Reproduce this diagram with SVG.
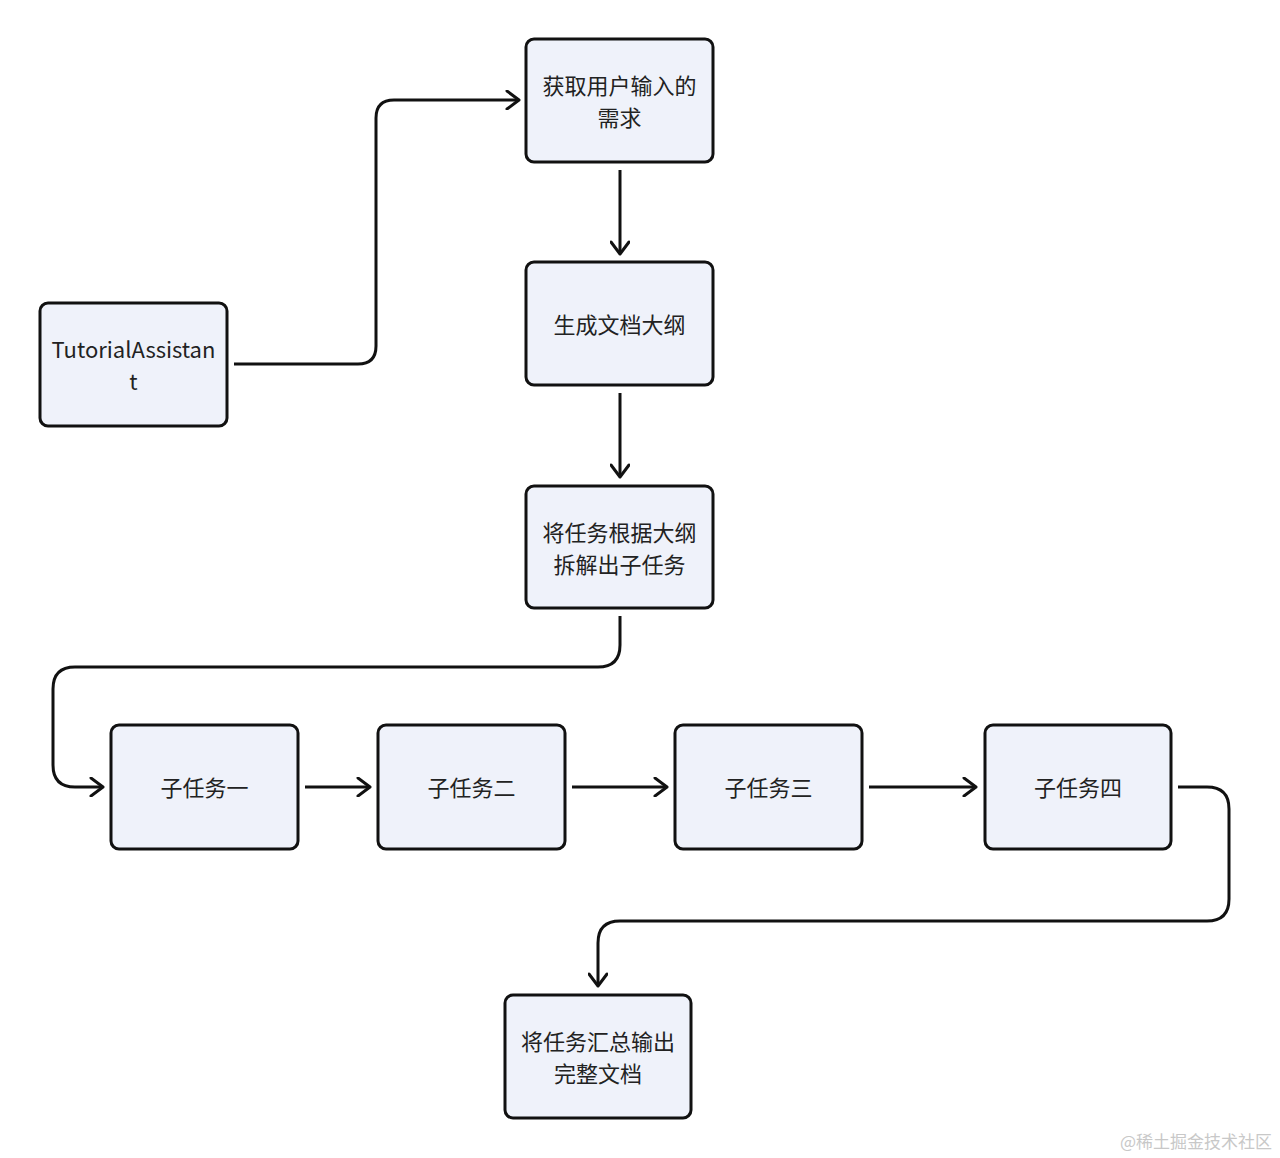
<svg xmlns="http://www.w3.org/2000/svg" width="1280" height="1158" viewBox="0 0 1280 1158">
<style>
.node rect{fill:#eff2fa;stroke:#111;stroke-width:3}
.node text{font-family:"Noto Sans CJK SC","Noto Sans",sans-serif;font-size:22px;fill:#222;text-anchor:middle}
.conn path{fill:none;stroke:#111;stroke-width:3;stroke-linejoin:round}
.wm{font-family:"Noto Sans CJK SC",sans-serif;font-size:17px;fill:#c8c8c8}
</style>
<defs>
<marker id="arr" viewBox="0 0 16 20" refX="14" refY="10" markerWidth="16" markerHeight="20" markerUnits="userSpaceOnUse" orient="auto">
<path d="M2,1 L14,10 L2,19" fill="none" stroke="#111" stroke-width="3" stroke-linecap="round" stroke-linejoin="round"/>
</marker>
</defs>
<rect width="1280" height="1158" fill="#fff"/>
<g class="conn">
<path d="M234,364 H358 Q376,364 376,346 V118 Q376,100 394,100 H519" marker-end="url(#arr)"/>
<path d="M620,170 V254" marker-end="url(#arr)"/>
<path d="M620,393 V477" marker-end="url(#arr)"/>
<path d="M620,616 V645 Q620,667 598,667 H75 Q53,667 53,689 V765 Q53,787 75,787 H103" marker-end="url(#arr)"/>
<path d="M305,787 H370" marker-end="url(#arr)"/>
<path d="M572,787 H667" marker-end="url(#arr)"/>
<path d="M869,787 H976" marker-end="url(#arr)"/>
<path d="M1178,787 H1207 Q1229,787 1229,809 V899 Q1229,921 1207,921 H620 Q598,921 598,943 V986" marker-end="url(#arr)"/>
</g>
<g id="n-tutorial" class="node"><rect x="40" y="303" width="187" height="123" rx="8"/><text x="133.5" y="358">TutorialAssistan</text><text x="133.5" y="390">t</text></g>
<g id="n-get" class="node"><rect x="526" y="39" width="187" height="123" rx="8"/><text x="619.5" y="94">获取用户输入的</text><text x="619.5" y="126">需求</text></g>
<g id="n-outline" class="node"><rect x="526" y="262" width="187" height="123" rx="8"/><text x="619.5" y="333">生成文档大纲</text></g>
<g id="n-split" class="node"><rect x="526" y="486" width="187" height="122" rx="8"/><text x="619.5" y="541">将任务根据大纲</text><text x="619.5" y="573">拆解出子任务</text></g>
<g id="n-sub1" class="node"><rect x="111" y="725" width="187" height="124" rx="8"/><text x="204.5" y="796">子任务一</text></g>
<g id="n-sub2" class="node"><rect x="378" y="725" width="187" height="124" rx="8"/><text x="471.5" y="796">子任务二</text></g>
<g id="n-sub3" class="node"><rect x="675" y="725" width="187" height="124" rx="8"/><text x="768.5" y="796">子任务三</text></g>
<g id="n-sub4" class="node"><rect x="985" y="725" width="186" height="124" rx="8"/><text x="1078" y="796">子任务四</text></g>
<g id="n-merge" class="node"><rect x="505" y="995" width="186" height="123" rx="8"/><text x="598" y="1050">将任务汇总输出</text><text x="598" y="1082">完整文档</text></g>
<text class="wm" x="1272" y="1148" text-anchor="end">@稀土掘金技术社区</text>
</svg>
